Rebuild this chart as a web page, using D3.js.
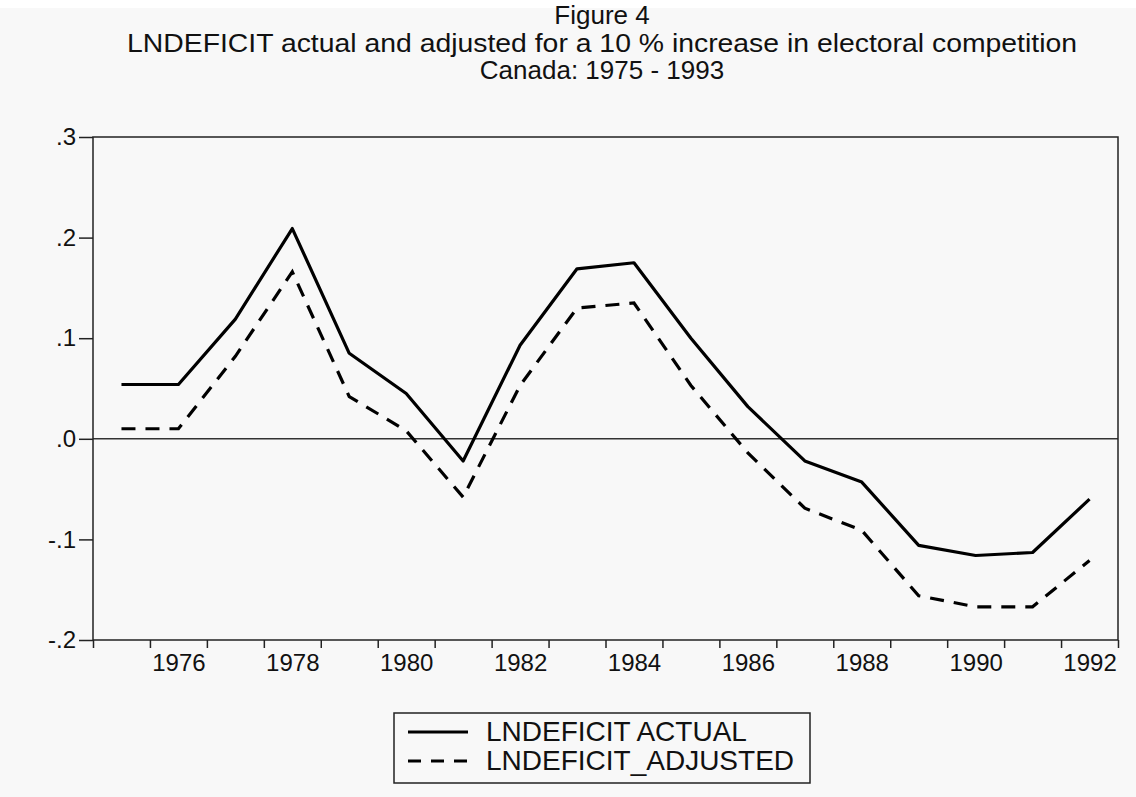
<!DOCTYPE html>
<html>
<head>
<meta charset="utf-8">
<script src="https://cdn.jsdelivr.net/npm/d3@7"></script>
<style>
  body { margin: 0; background: #fff; }
  text { font-family: "Liberation Sans", Arial, sans-serif; fill: #111; }
</style>
</head>
<body>
<svg width="1136" height="797"></svg>
<script>
// values, one per year (plotted mid-year)
var years = [1975, 1976, 1977, 1978, 1979, 1980, 1981, 1982, 1983,
             1984, 1985, 1986, 1987, 1988, 1989, 1990, 1991, 1992];
var actual = [0.054, 0.054, 0.119, 0.209, 0.085, 0.045, -0.022, 0.093, 0.169,
              0.175, 0.100, 0.032, -0.022, -0.043, -0.106, -0.116, -0.113, -0.060];
var adjusted = [0.010, 0.010, 0.082, 0.166, 0.042, 0.008, -0.058, 0.053, 0.130,
                0.135, 0.053, -0.014, -0.069, -0.091, -0.156, -0.167, -0.167, -0.121];
var yTicks = [-0.2, -0.1, 0, 0.1, 0.2, 0.3];
var yLabels = ["-.2", "-.1", ".0", ".1", ".2", ".3"];
var xLabelYears = [1976, 1978, 1980, 1982, 1984, 1986, 1988, 1990, 1992];
var titleLines = ["Figure 4",
  "LNDEFICIT actual and adjusted for a 10 % increase in electoral competition",
  "Canada: 1975 - 1993"];
var legendNames = ["LNDEFICIT ACTUAL", "LNDEFICIT_ADJUSTED"];

var svg = d3.select("svg"),
    width = +svg.attr("width"),
    height = +svg.attr("height");

// plot box ("top" is taken by window.top, so prefix them)
var pLeft = 93, pRight = 1118, pTop = 137, pBottom = 640;

var x = d3.scaleLinear().domain([1975, 1993]).range([pLeft, pRight]);
var y = d3.scaleLinear().domain([-0.2, 0.3]).range([pBottom, pTop]);

// page background (white strip on top, light grey below)
svg.append("rect").attr("width", width).attr("height", height).attr("fill", "#fff");
svg.append("rect").attr("y", 8).attr("width", width).attr("height", height - 8).attr("fill", "#f8f8f8");

// title
svg.append("g").selectAll("text")
    .data(titleLines)
    .enter().append("text")
    .attr("x", 602)
    .attr("y", function(d, i) { return 24 + i * 27.5; })
    .attr("text-anchor", "middle")
    .style("font-size", "26px")
    .attr("textLength", function(d, i) { return i == 1 ? 950 : null; })
    .attr("lengthAdjust", "spacingAndGlyphs")
    .text(function(d) { return d; });

// y axis
var yAxis = svg.append("g")
    .attr("transform", "translate(" + pLeft + ",0)")
    .call(d3.axisLeft(y).tickValues(yTicks).tickSize(14).tickPadding(3)
      .tickFormat(function(d, i) { return yLabels[i]; }));
yAxis.select(".domain").remove();
yAxis.selectAll("line").attr("stroke", "#222").attr("stroke-width", 1.5);
yAxis.selectAll("text").style("font-size", "24px").attr("fill", "#111")
    .attr("font-family", null);

// x axis: a tick at each year boundary, labels centred in even years
var xAxis = svg.append("g")
    .attr("transform", "translate(0," + pBottom + ")")
    .call(d3.axisBottom(x).tickValues(d3.range(1975, 1994)).tickSize(8).tickFormat(""));
xAxis.select(".domain").remove();
xAxis.selectAll("line").attr("stroke", "#222").attr("stroke-width", 1.5);

var xLab = svg.append("g")
    .attr("transform", "translate(0," + pBottom + ")")
    .call(d3.axisBottom(x).tickValues(xLabelYears.map(function(d) { return d + 0.5; }))
      .tickSize(0).tickPadding(14)
      .tickFormat(function(d) { return Math.floor(d); }));
xLab.select(".domain").remove();
xLab.selectAll("text").style("font-size", "24px").attr("fill", "#111")
    .attr("font-family", null);

// zero line
svg.append("line")
    .attr("x1", pLeft).attr("x2", pRight)
    .attr("y1", y(0)).attr("y2", y(0))
    .attr("stroke", "#333").attr("stroke-width", 1.5);

// frame
svg.append("rect")
    .attr("x", pLeft).attr("y", pTop)
    .attr("width", pRight - pLeft).attr("height", pBottom - pTop)
    .attr("fill", "none").attr("stroke", "#222").attr("stroke-width", 1.5);

var line = d3.line()
    .x(function(d) { return x(d[0] + 0.5); })
    .y(function(d) { return y(d[1]); });

svg.append("path")
    .datum(d3.zip(years, adjusted))
    .attr("d", line)
    .attr("fill", "none").attr("stroke", "#000")
    .attr("stroke-width", 3.2)
    .attr("stroke-dasharray", "14,10");

svg.append("path")
    .datum(d3.zip(years, actual))
    .attr("d", line)
    .attr("fill", "none").attr("stroke", "#000")
    .attr("stroke-width", 3.2)
    .attr("stroke-linejoin", "round");

// legend
var legend = svg.append("g");
legend.append("rect")
    .attr("x", 394).attr("y", 713).attr("width", 416).attr("height", 70)
    .attr("fill", "none").attr("stroke", "#222").attr("stroke-width", 1.5);

var item = legend.selectAll("g")
    .data(legendNames)
    .enter().append("g")
    .attr("transform", function(d, i) { return "translate(0," + (732 + i * 29) + ")"; });

item.append("line")
    .attr("x1", 408).attr("x2", 468)
    .attr("stroke", "#000").attr("stroke-width", 3.2)
    .attr("stroke-dasharray", function(d, i) { return i ? "13,10" : null; });

item.append("text")
    .attr("x", 486).attr("y", 9)
    .style("font-size", "28px")
    .text(function(d) { return d; });
</script>
</body>
</html>
